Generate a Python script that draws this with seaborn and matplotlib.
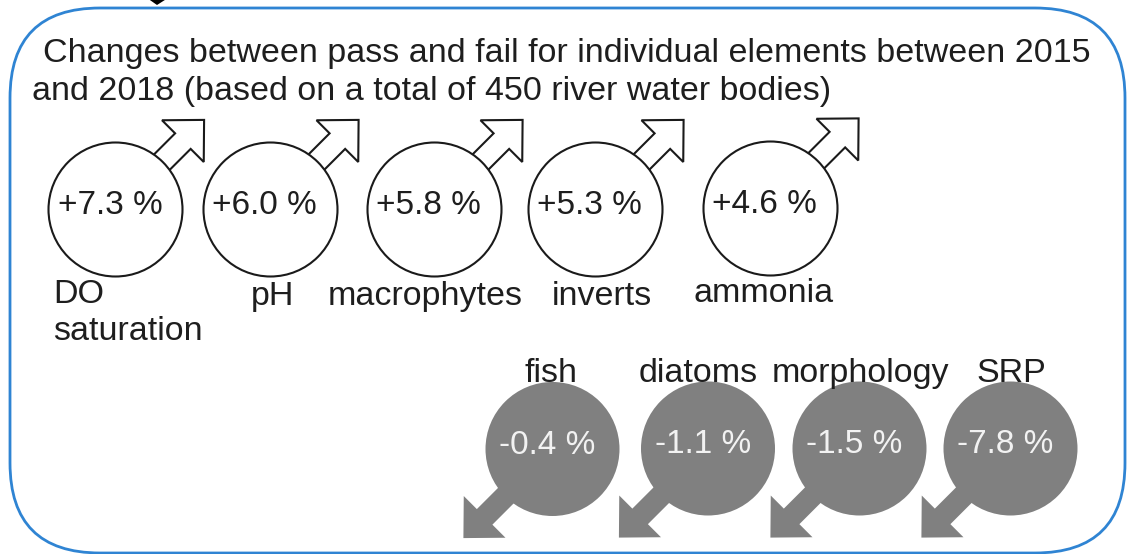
import numpy as np
import pandas as pd
import matplotlib.pyplot as plt
import seaborn as sns
from matplotlib.patches import Polygon, FancyBboxPatch

# Data: change between pass and fail, 2015 -> 2018 (450 river water bodies)
elements = ["DO\nsaturation", "pH", "macrophytes", "inverts", "ammonia",
            "fish", "diatoms", "morphology", "SRP"]
changes = [7.3, 6.0, 5.8, 5.3, 4.6, -0.4, -1.1, -1.5, -7.8]
title_lines = ["Changes between pass and fail for individual elements between 2015",
               "and 2018 (based on a total of 450 river water bodies)"]

# Layout (pixel space, y downwards)
pos_x = [115, 269.5, 433.5, 594.5, 769.5, 552.5, 708, 859.5, 1010.5]
pos_y = [209, 209, 209, 209, 207.5, 449, 448.5, 448.5, 448.5]
label_x = [53, 273, 425, 602, 764, 551, 698, 860, 1011]
label_y = [303, 305, 305, 305, 302, 382, 382, 382, 382]

df = pd.DataFrame({"element": elements, "change": changes, "x": pos_x, "y": pos_y})
df["direction"] = np.where(df["change"] > 0, "up", "down")

GREY = "#808080"
BLUE = "#2f84d3"
TEXT = "#1e1e1e"

sns.set_style("white")
plt.rcParams["font.family"] = ["Liberation Sans", "DejaVu Sans"]

fig = plt.figure(figsize=(11.33, 5.54), dpi=100)
ax = fig.add_axes([0, 0, 1, 1])

# rounded frame
frame = FancyBboxPatch((10, 8), 1115, 545, boxstyle="round,pad=0,rounding_size=90",
                       facecolor="white", edgecolor=BLUE, linewidth=2, zorder=0)
ax.add_patch(frame)
ax.add_patch(Polygon([(147, -2), (168, -2), (157, 5)], closed=True,
                     facecolor="black", edgecolor="none", zorder=1))


def arrow_poly(cx, cy, ux, uy):
    # arrow from circle centre along (ux, uy)
    u = np.array([ux, uy]) / np.hypot(ux, uy)
    n = np.array([-u[1], u[0]])
    c = np.array([cx, cy])
    tip, base, shaft_w, head_w = 126, 96, 11, 29.5
    pts = [c + n * shaft_w, c + u * base + n * shaft_w, c + u * base + n * head_w,
           c + u * tip, c + u * base - n * head_w, c + u * base - n * shaft_w,
           c - n * shaft_w]
    return pts


for _, r in df.iterrows():
    if r["direction"] == "up":
        p = Polygon(arrow_poly(r["x"], r["y"], 1, -1), closed=True, facecolor="white",
                    edgecolor="#1a1a1a", linewidth=1.5, joinstyle="miter", zorder=2)
    else:
        p = Polygon(arrow_poly(r["x"], r["y"], -1, 1), closed=True, facecolor=GREY,
                    edgecolor="none", zorder=2)
    ax.add_patch(p)

# circles
diam_pt = 134 * 72 / 100
sns.scatterplot(data=df[df["direction"] == "up"], x="x", y="y", s=diam_pt ** 2,
                color="white", edgecolor="#1a1a1a", linewidth=1.5, ax=ax,
                legend=False, zorder=3)
sns.scatterplot(data=df[df["direction"] == "down"], x="x", y="y", s=diam_pt ** 2,
                color=GREY, edgecolor="none", linewidth=0, ax=ax,
                legend=False, zorder=3)
ax.set_xlim(0, 1133)
ax.set_ylim(554, 0)
ax.axis("off")

# value texts
for _, r in df.iterrows():
    txt = f"{r['change']:+.1f} %"
    col = TEXT if r["direction"] == "up" else "#f2f2f2"
    dy = -3 if r["direction"] == "up" else -4
    ax.text(r["x"] - 5, r["y"] + dy, txt, ha="center", va="center",
            fontsize=24, color=col, zorder=4)

# element labels
for i, name in enumerate(elements):
    if "\n" in name:
        for j, part in enumerate(name.split("\n")):
            ax.text(label_x[i], label_y[i] + 37 * j, part, ha="left", va="baseline",
                    fontsize=24.5, color=TEXT, zorder=4)
    else:
        ax.text(label_x[i], label_y[i], name, ha="center", va="baseline",
                fontsize=24.5, color=TEXT, zorder=4)

# title
ax.text(43, 62, title_lines[0], ha="left", va="baseline", fontsize=24.5, color=TEXT)
ax.text(32, 100, title_lines[1], ha="left", va="baseline", fontsize=24.5, color=TEXT)

fig.savefig("out.png", dpi=100)
